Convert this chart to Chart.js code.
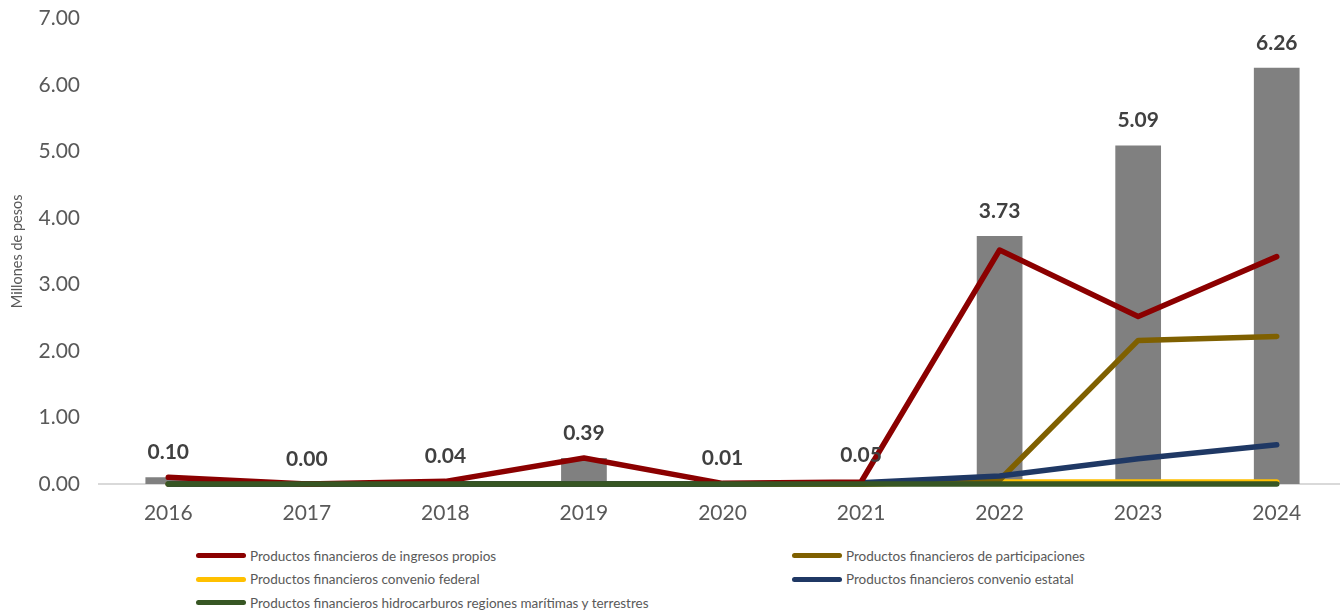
<!DOCTYPE html>
<html lang="es">
<head>
<meta charset="utf-8">
<script src="https://cdn.jsdelivr.net/npm/chart.js@4.4.1/dist/chart.umd.min.js"></script>
<style>
  html, body { margin: 0; padding: 0; background: #fff; overflow: hidden; }
  #wrap { position: relative; width: 1346px; height: 612px; }
  #chart { position: absolute; left: 0; top: -13px; }
  #legend {
    position: absolute; left: 196px; top: 544px;
    display: grid; grid-template-columns: 596px auto;
    font-family: Lato, "Liberation Sans", sans-serif; font-size: 13.5px; color: #595959;
  }
  .item { display: flex; align-items: center; height: 23.5px; }
  .swatch { width: 50px; height: 5px; border-radius: 3px; margin-right: 4px; }
</style>
</head>
<body>
<div id="wrap">
  <canvas id="chart" width="1346" height="553"></canvas>
  <div id="legend"></div>
</div>
<script>
// años
const years = ['2016', '2017', '2018', '2019', '2020', '2021', '2022', '2023', '2024'];

// total (barras)
const totalValues = [0.10, 0.00, 0.04, 0.39, 0.01, 0.05, 3.73, 5.09, 6.26];

// componentes (líneas)
const ingresosPropios = [0.10, 0.00, 0.04, 0.39, 0.01, 0.03, 3.52, 2.52, 3.42];
const participaciones = [0.00, 0.00, 0.00, 0.00, 0.00, 0.00, 0.06, 2.16, 2.22];
const convenioFederal = [0.00, 0.00, 0.00, 0.00, 0.00, 0.00, 0.03, 0.03, 0.03];
const convenioEstatal = [0.00, 0.00, 0.00, 0.00, 0.00, 0.02, 0.12, 0.38, 0.59];
const hidrocarburos = [0.00, 0.00, 0.00, 0.00, 0.00, 0.00, 0.00, 0.00, 0.00];

const yTicks = [0, 1, 2, 3, 4, 5, 6, 7];

// order: menor valor se dibuja encima
const series = [
  { label: 'Productos financieros de ingresos propios', data: ingresosPropios, color: '#8B0000', order: 1 },
  { label: 'Productos financieros de participaciones', data: participaciones, color: '#7F6000', order: 3 },
  { label: 'Productos financieros convenio federal', data: convenioFederal, color: '#FFC000', order: 4 },
  { label: 'Productos financieros convenio estatal', data: convenioEstatal, color: '#1F3864', order: 2 },
  { label: 'Productos financieros hidrocarburos regiones marítimas y terrestres', data: hidrocarburos, color: '#375623', order: 0 }
];

const FONT = 'Lato, "Liberation Sans", sans-serif';

// etiquetas de valor sobre las barras
const barLabels = {
  id: 'barLabels',
  afterDraw(chart) {
    const meta = chart.getDatasetMeta(0);
    const ctx = chart.ctx;
    ctx.save();
    ctx.font = 'bold 21px ' + FONT;
    ctx.fillStyle = '#404040';
    ctx.textAlign = 'center';
    ctx.textBaseline = 'middle';
    meta.data.forEach((bar, i) => {
      ctx.fillText(totalValues[i].toFixed(2), bar.x, bar.y - 25);
    });
    ctx.restore();
  }
};

const datasets = [{
  type: 'bar',
  label: 'Total',
  data: totalValues,
  backgroundColor: '#808080',
  categoryPercentage: 1,
  barPercentage: 0.33,
  order: 10
}].concat(series.map(s => ({
  type: 'line',
  label: s.label,
  data: s.data,
  borderColor: s.color,
  backgroundColor: s.color,
  borderWidth: 5.5,
  pointRadius: 0,
  borderCapStyle: 'round',
  borderJoinStyle: 'round',
  tension: 0,
  clip: false,
  order: s.order
})));

new Chart(document.getElementById('chart'), {
  data: { labels: years, datasets: datasets },
  options: {
    responsive: false,
    animation: false,
    devicePixelRatio: 1,
    layout: { padding: { top: 5, left: 0, right: 0, bottom: 0 } },
    plugins: {
      legend: { display: false },
      tooltip: { enabled: false }
    },
    scales: {
      x: {
        grid: { display: false, drawTicks: false },
        border: { color: '#d9d9d9', width: 2 },
        ticks: { color: '#595959', font: { family: FONT, size: 21 }, padding: 17 },
        afterFit(scale) { scale.height = 56; }
      },
      y: {
        min: 0,
        max: 7,
        afterBuildTicks(scale) { scale.ticks = yTicks.map(v => ({ value: v })); },
        grid: { display: false, drawTicks: false },
        border: { display: false },
        ticks: {
          color: '#595959',
          font: { family: FONT, size: 21 },
          padding: 19,
          callback: v => v.toFixed(2)
        },
        title: {
          display: true,
          text: 'Millones de pesos',
          color: '#595959',
          font: { family: FONT, size: 14.5 },
          padding: { top: 9, bottom: 0 }
        },
        afterFit(scale) { scale.width = 99; }
      }
    }
  },
  plugins: [barLabels]
});

// leyenda en dos columnas
const legend = document.getElementById('legend');
series.forEach(s => {
  const item = document.createElement('div');
  item.className = 'item';
  const sw = document.createElement('span');
  sw.className = 'swatch';
  sw.style.background = s.color;
  const txt = document.createElement('span');
  txt.textContent = s.label;
  item.appendChild(sw);
  item.appendChild(txt);
  legend.appendChild(item);
});
</script>
</body>
</html>
